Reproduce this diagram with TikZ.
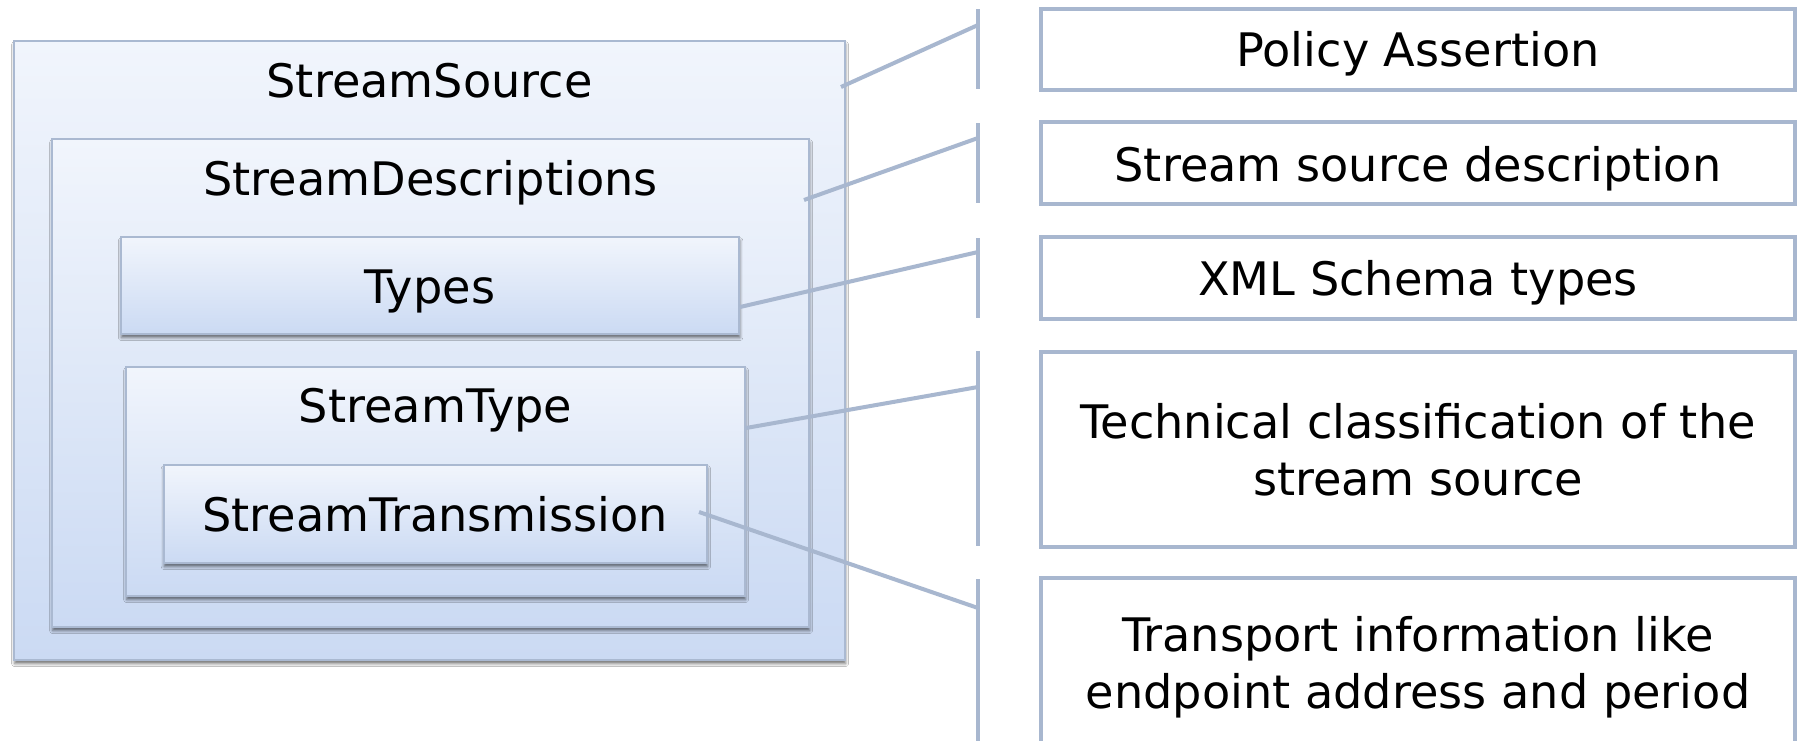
\documentclass[tikz,border=0pt]{standalone}
\usepackage{fontspec}
\setmainfont{DejaVu Sans}
\usetikzlibrary{shadows.blur}
\definecolor{linecol}{RGB}{168,183,207}
\definecolor{boxtop}{RGB}{241,245,252}
\definecolor{boxbot}{RGB}{203,218,243}
\definecolor{boxedge}{RGB}{170,185,209}
\begin{document}
\begin{tikzpicture}[x=0.5pt,y=-0.5pt,
  nest/.style={draw=boxedge, line width=1pt, top color=boxtop, bottom color=boxbot, inner sep=0pt,
    blur shadow={shadow xshift=0.3pt, shadow yshift=-1.8pt, shadow blur radius=1.5pt, shadow opacity=55}},
  note/.style={draw=linecol, line width=2pt, fill=white, inner sep=0pt},
  lbl/.style={font=\fontsize{23.1}{28.5}\selectfont, inner sep=0pt},
  conn/.style={draw=linecol, line width=2pt},
]
\useasboundingbox (0,0) rectangle (1801,740);
\clip (0,0) rectangle (1801,740);
\fill[white] (0,0) rectangle (1801,740);

% nested boxes
\node[nest, minimum width=415.5pt, minimum height=309.5pt] (ss) at (429.5,350.5) {};
\node[lbl, anchor=base] (tss) at (429.5,97.7) {StreamSource};
\node[nest, minimum width=378.5pt, minimum height=244pt] (sd) at (430.5,383) {};
\node[lbl, anchor=base] (tsd) at (430.5,195) {StreamDescriptions};
\node[nest, minimum width=309.25pt, minimum height=48.5pt] (ty) at (430,285.5) {};
\node[lbl, anchor=base] (tty) at (430,303) {Types};
\node[nest, minimum width=309.5pt, minimum height=114.5pt] (st) at (435.5,481.5) {};
\node[lbl, anchor=base] (tst) at (435.5,422.7) {StreamType};
\node[nest, minimum width=271.7pt, minimum height=49pt] (tr) at (435.3,514) {};
\node[lbl, anchor=base] (ttr) at (435.3,531.7) {StreamTransmission};

% vertical bracket lines
\coordinate (v1a) at (978,9);   \coordinate (v1b) at (978,89);
\coordinate (v2a) at (978,123); \coordinate (v2b) at (978,203);
\coordinate (v3a) at (978,238); \coordinate (v3b) at (978,318);
\coordinate (v4a) at (978,351); \coordinate (v4b) at (978,546);
\coordinate (v5a) at (978,579); \coordinate (v5b) at (978,745);
\foreach \i in {1,...,5} {\draw[conn] (v\i a) -- (v\i b);}

% connectors
\coordinate (s1) at (841,87);  \coordinate (e1) at (978,25);
\coordinate (s2) at (804,200); \coordinate (e2) at (978,138);
\coordinate (s3) at (740,307); \coordinate (e3) at (978,252);
\coordinate (s4) at (746,428); \coordinate (e4) at (978,387);
\coordinate (s5) at (699,512); \coordinate (e5) at (978,608);
\foreach \i in {1,...,5} {\draw[conn] (s\i) -- (e\i);}

% right boxes
\node[note, minimum width=377pt, minimum height=40.5pt] (r1) at (1418,49.5) {};
\node[lbl, anchor=base] (t1) at (1418,66.7) {Policy Assertion};
\node[note, minimum width=377pt, minimum height=41pt] (r2) at (1418,163) {};
\node[lbl, anchor=base] (t2) at (1418,181) {Stream source description};
\node[note, minimum width=377pt, minimum height=41pt] (r3) at (1418,278) {};
\node[lbl, anchor=base] (t3) at (1418,295) {XML Schema types};
\node[note, minimum width=377pt, minimum height=97.5pt] (r4) at (1418,449.5) {};
\node[lbl, align=center] (t4) at (1418,449.5) {Technical classification of the\\stream source};
\node[note, minimum width=377pt, minimum height=87pt] (r5) at (1418,665) {};
\node[lbl, align=center] (t5) at (1418,666.8) {Transport information like\\endpoint address and period};
\end{tikzpicture}
\end{document}
